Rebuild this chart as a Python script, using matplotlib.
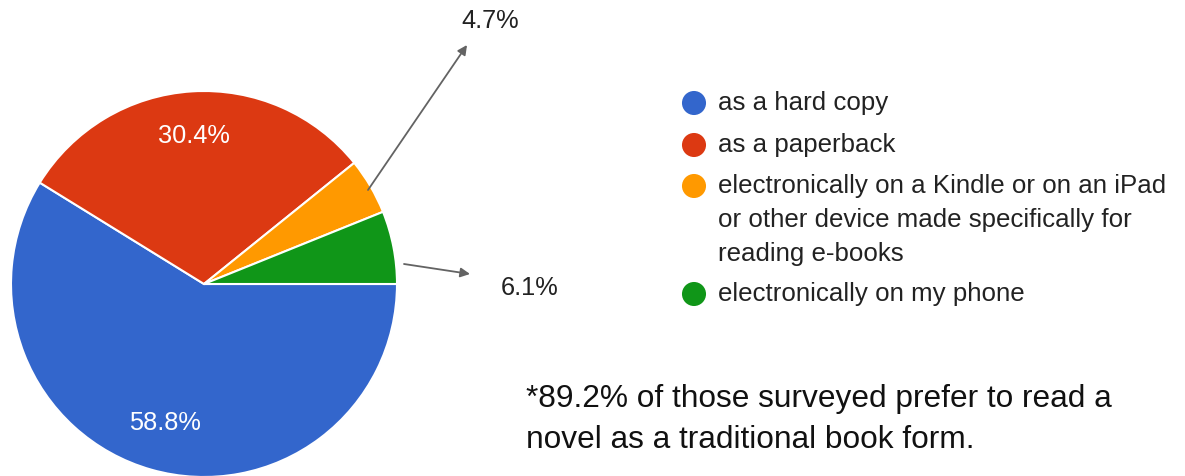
import matplotlib
matplotlib.use("Agg")
import matplotlib.pyplot as plt

# ---- data ----
categories = ["as a hard copy", "as a paperback",
              "electronically on a Kindle or on an iPad\nor other device made specifically for\nreading e-books",
              "electronically on my phone"]
values = [58.8, 30.4, 4.7, 6.1]
labels = ["58.8%", "30.4%", "4.7%", "6.1%"]
colors = ["#3366cc", "#dc3912", "#ff9900", "#109618"]
footnote = "*89.2% of those surveyed prefer to read a\nnovel as a traditional book form."

plt.rcParams['font.family'] = ['Liberation Sans', 'DejaVu Sans']

W, H = 1185, 476
fig = plt.figure(figsize=(W / 100, H / 100), dpi=100)
ax = fig.add_axes([0, 0, 1, 1])

def Y(y):  # image pixel row -> data y
    return H - y

ax.pie(values, colors=colors, startangle=0, counterclock=False,
       center=(204, Y(284)), radius=193,
       wedgeprops=dict(edgecolor="white", linewidth=1.5))
ax.set_xlim(0, W)
ax.set_ylim(0, H)
ax.set_aspect('equal')
ax.axis('off')

LBL = 18.3
# inside labels
ax.text(194, Y(136), labels[1], color="white", fontsize=LBL, ha="center", va="center")
ax.text(165, Y(423), labels[0], color="white", fontsize=LBL, ha="center", va="center")

# outside labels with arrows
arrow = dict(arrowstyle="-|>", color="#636363", lw=1.3, mutation_scale=14, shrinkA=0, shrinkB=0)
ax.annotate("", xy=(467, Y(45)), xytext=(368, Y(190)), arrowprops=arrow)
ax.text(490, Y(21), labels[2], fontsize=LBL, ha="center", va="center", color="#222222")
ax.annotate("", xy=(470, Y(274)), xytext=(404, Y(264)), arrowprops=arrow)
ax.text(530, Y(288), labels[3], fontsize=LBL, ha="center", va="center", color="#222222")

# legend
legend_y = [103, 145, 186, 294]
for c, cat, yy in zip(colors, categories, legend_y):
    ax.scatter([694], [Y(yy)], s=300, color=c, edgecolors="none", zorder=5)
    for i, line in enumerate(cat.split("\n")):
        ax.text(718, Y(yy + 34 * i), line, fontsize=18.6, ha="left", va="center",
                color="#222222")

# footnote
ax.text(526, Y(384), footnote, fontsize=22.8, ha="left", va="top", color="#111111",
        linespacing=1.47)

fig.savefig("out.png", dpi=100)
